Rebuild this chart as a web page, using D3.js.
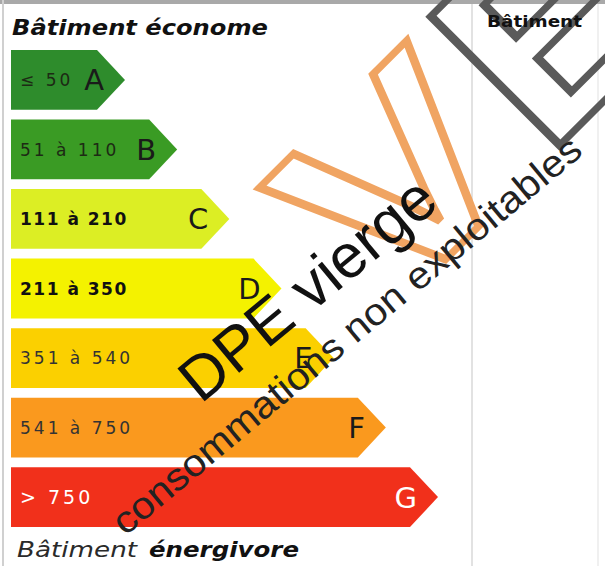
<!DOCTYPE html>
<html>
<head>
<meta charset="utf-8">
<script src="https://cdn.jsdelivr.net/npm/d3@7/dist/d3.min.js"></script>
<style>
  body { margin: 0; background: #fff; }
  svg { display: block; }
</style>
</head>
<body>
<div id="chart"></div>
<script>

// energy classes, top (econome) to bottom (energivore)
var classes = ["A", "B", "C", "D", "E", "F", "G"];
var ranges = ["\u2264 50", "51 \u00e0 110", "111 \u00e0 210", "211 \u00e0 350", "351 \u00e0 540", "541 \u00e0 750", "> 750"];
var classColors = ["#2e8c2c", "#3a9b24", "#dcee24", "#f4f200", "#fbd000", "#fa991e", "#f1301b"];
var labelColors = ["#1d2a14", "#1d2a14", "#111", "#111", "#333", "#333", "#fff"];
var labelWeights = ["normal", "normal", "bold", "bold", "normal", "normal", "normal"];

var width = 605,
    height = 566;

var svg = d3.select("#chart")
    .append("svg")
    .attr("width", width)
    .attr("height", height);

// frame
svg.append("rect").attr("x", 0).attr("y", 0).attr("width", width).attr("height", 4).attr("fill", "#a9a9a9");
svg.append("rect").attr("x", 2).attr("y", 0).attr("width", 2).attr("height", height).attr("fill", "#d0d0d0");
svg.append("rect").attr("x", 471).attr("y", 4).attr("width", 2).attr("height", height).attr("fill", "#e2e2e2");
svg.append("rect").attr("x", 597).attr("y", 4).attr("width", 2).attr("height", height).attr("fill", "#f0f0f0");

var yScale = d3.scaleBand()
    .domain(classes)
    .range([50, 527])
    .paddingInner(0.14);

// tip of each arrow grows with the class index
var xScale = d3.scaleLinear()
    .domain([0, classes.length - 1])
    .range([125, 438]);

var color = d3.scaleOrdinal(classes, classColors);

var x0 = 11;
var tip = 28;

var bars = svg.selectAll(".bar")
    .data(classes)
    .enter()
    .append("g")
    .attr("class", "bar");

bars.append("path")
    .attr("fill", function(d){ return color(d) })
    .attr("d", function(d, i){
        var y = yScale(d), h = yScale.bandwidth(), xe = xScale(i);
        return "M" + x0 + "," + y + "H" + (xe - tip) + "L" + xe + "," + (y + h / 2) +
               "L" + (xe - tip) + "," + (y + h) + "H" + x0 + "Z";
    });

bars.append("text")
    .attr("x", 20)
    .attr("y", function(d){ return yScale(d) + yScale.bandwidth() / 2 })
    .attr("dy", "0.36em")
    .style("font-family", "DejaVu Sans")
    .style("font-size", function(d, i){ return i == 6 ? "19px" : "17px" })
    .style("letter-spacing", function(d, i){ return labelWeights[i] == "bold" ? "1.5px" : "3px" })
    .style("font-weight", function(d, i){ return labelWeights[i] })
    .attr("fill", function(d, i){ return labelColors[i] })
    .text(function(d, i){ return ranges[i] });

bars.append("text")
    .attr("x", function(d, i){ return xScale(i) - 21 })
    .attr("y", function(d){ return yScale(d) + yScale.bandwidth() / 2 })
    .attr("dy", "0.36em")
    .attr("text-anchor", "end")
    .style("font-family", "DejaVu Sans")
    .style("font-size", "29px")
    .attr("fill", function(d, i){ return i == 6 ? "#fff" : "#1a1a1a" })
    .text(function(d){ return d });

// titles
svg.append("text")
    .attr("x", 12).attr("y", 35)
    .attr("textLength", 256).attr("lengthAdjust", "spacingAndGlyphs")
    .style("font-family", "DejaVu Sans").style("font-size", "21px")
    .style("font-weight", "bold").style("font-style", "italic")
    .attr("fill", "#111")
    .text("B\u00e2timent \u00e9conome");

svg.append("text")
    .attr("x", 17).attr("y", 557)
    .attr("textLength", 120).attr("lengthAdjust", "spacingAndGlyphs")
    .style("font-family", "DejaVu Sans").style("font-size", "21px")
    .style("font-style", "italic")
    .attr("fill", "#2a2a2a")
    .text("B\u00e2timent");

svg.append("text")
    .attr("x", 149).attr("y", 557)
    .attr("textLength", 150).attr("lengthAdjust", "spacingAndGlyphs")
    .style("font-family", "DejaVu Sans").style("font-size", "21px")
    .style("font-weight", "bold").style("font-style", "italic")
    .attr("fill", "#111")
    .text("\u00e9nergivore");

// watermark logo: outlined V and E
var logo = svg.append("g")
    .attr("transform", "translate(387,318) rotate(-45) scale(1.2,1)");

logo.append("text")
    .attr("x", 0).attr("y", 0)
    .style("font-family", "Liberation Sans").style("font-size", "265px")
    .style("font-weight", "bold")
    .attr("fill", "none").attr("stroke", "#f0a462").attr("stroke-width", 8)
    .attr("vector-effect", "non-scaling-stroke")
    .text("V");

logo.append("text")
    .attr("x", 186).attr("y", 0)
    .style("font-family", "Liberation Sans").style("font-size", "265px")
    .style("font-weight", "bold")
    .attr("fill", "none").attr("stroke", "#5a5a5a").attr("stroke-width", 8)
    .attr("vector-effect", "non-scaling-stroke")
    .text("E");

svg.append("text")
    .attr("x", 487).attr("y", 27)
    .attr("textLength", 95).attr("lengthAdjust", "spacingAndGlyphs")
    .style("font-family", "DejaVu Sans").style("font-size", "15px")
    .style("font-weight", "bold")
    .attr("fill", "#111")
    .text("B\u00e2timent");

// watermark texts
svg.append("text")
    .attr("transform", "translate(321,305) rotate(-39.6)")
    .attr("text-anchor", "middle")
    .attr("textLength", 312).attr("lengthAdjust", "spacingAndGlyphs")
    .style("font-family", "Liberation Sans").style("font-size", "62px")
    .attr("fill", "#111")
    .text("DPE vierge");

svg.append("text")
    .attr("transform", "translate(355,345) rotate(-39.8)")
    .attr("text-anchor", "middle")
    .attr("textLength", 598).attr("lengthAdjust", "spacingAndGlyphs")
    .style("font-family", "Liberation Sans").style("font-size", "38px")
    .attr("fill", "#222")
    .text("consommations non exploitables");

</script>
</body>
</html>
